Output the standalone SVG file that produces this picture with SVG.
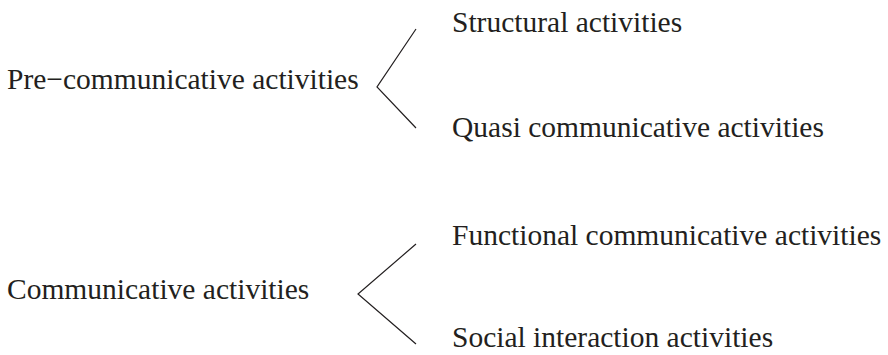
<svg xmlns="http://www.w3.org/2000/svg" width="888" height="355" viewBox="0 0 888 355">
<style>
text{font-family:"Liberation Serif","Times New Roman",serif;font-size:29.5px;fill:#231f20}
.c{fill:none;stroke:#231f20;stroke-width:1.2}
</style>
<rect width="888" height="355" fill="#fff"/>
<g id="n-pre"><text x="7" y="89">Pre−communicative activities</text></g>
<g id="n-struct"><text x="452" y="32">Structural activities</text></g>
<g id="n-quasi"><text x="452" y="137">Quasi communicative activities</text></g>
<g id="n-comm"><text x="7" y="299">Communicative activities</text></g>
<g id="n-func"><text x="452" y="245">Functional communicative activities</text></g>
<g id="n-social"><text x="452" y="347">Social interaction activities</text></g>
<g id="connectors">
<polyline class="c" points="416,29 377,87 416,128"/>
<polyline class="c" points="416,244 358,294 416,344"/>
</g>
</svg>
